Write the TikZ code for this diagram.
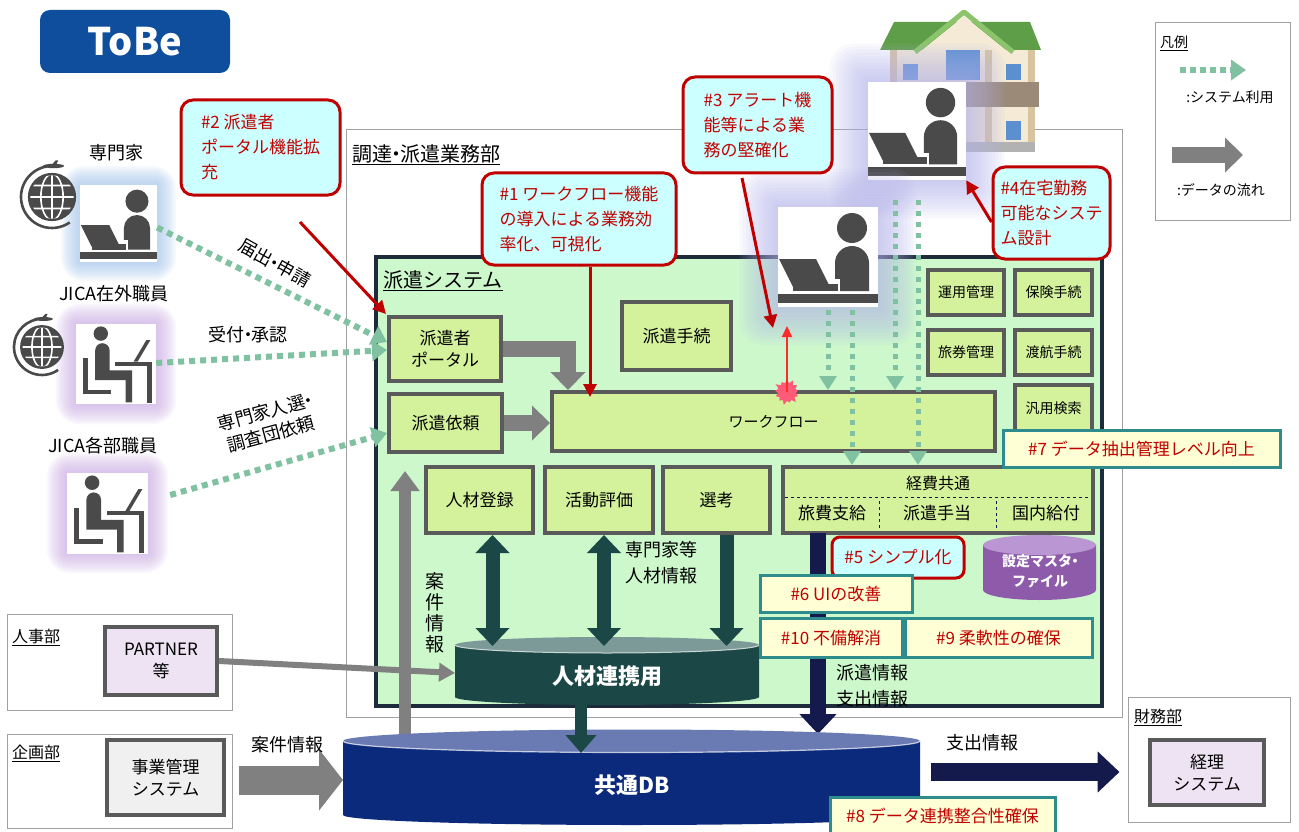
\documentclass[tikz,border=0pt]{standalone}
\usepackage{fontspec}
\setmainfont{Noto Sans CJK JP}
\usetikzlibrary{arrows.meta,shapes.symbols,calc}

\definecolor{tobeblue}{HTML}{0E4E9C}
\definecolor{framegray}{HTML}{A0A0A0}
\definecolor{sysfill}{HTML}{CCF8CC}
\definecolor{sysline}{HTML}{1E2B3A}
\definecolor{boxfill}{HTML}{D4F29C}
\definecolor{boxline}{HTML}{5A5A5A}
\definecolor{calred}{HTML}{C00000}
\definecolor{calfill}{HTML}{CCFFFF}
\definecolor{tealline}{HTML}{2F8C8C}
\definecolor{tealfill}{HTML}{FFFFD6}
\definecolor{usegreen}{HTML}{7FC1A0}
\definecolor{flowgray}{HTML}{808080}
\definecolor{hrteal}{HTML}{1B4846}
\definecolor{hrtopc}{HTML}{7C9A98}
\definecolor{dbnavy}{HTML}{0B2A7C}
\definecolor{dbtopc}{HTML}{6A7AB2}
\definecolor{expnavy}{HTML}{141A4C}
\definecolor{mstpurple}{HTML}{8E5BAA}
\definecolor{msttopc}{HTML}{BA96D2}
\definecolor{icongray}{HTML}{4A4A4A}
\definecolor{glowblue}{HTML}{9EC4EE}
\definecolor{glowlilac}{HTML}{C9A6E4}
\definecolor{glowmix}{HTML}{B4B4EE}
\definecolor{lavfill}{HTML}{EDE3F2}
\definecolor{lightgrayfill}{HTML}{F0F0F0}
\definecolor{roofgreen}{HTML}{5E9E48}
\definecolor{rooflight}{HTML}{8CC46C}
\definecolor{wallbeige}{HTML}{F4EAD6}
\definecolor{posttan}{HTML}{D9C4A0}
\definecolor{winblue}{HTML}{5B8FD0}
\definecolor{balconybrown}{HTML}{9C8A78}
\definecolor{burstpink}{HTML}{FF5A78}
\definecolor{alertred}{HTML}{FF2A2A}

% soft halo behind an icon: x1 y1 x2 y2 colour step
\newcommand{\halo}[6]{%
  \foreach \g in {1,...,12}{%
    \fill[#5, opacity=0.075, rounded corners=2*\g pt]
      (#1-\g*#6,#2-\g*#6) rectangle (#3+\g*#6,#4+\g*#6);}}
% narrow middle dot between words
\newcommand{\nd}{\kern-0.3em・\kern-0.3em}

\tikzset{
  fbox/.style={draw=boxline, line width=4pt, fill=boxfill, align=center,
    inner sep=0pt, font=\fontsize{17}{22}\selectfont},
  fsmall/.style={fbox, font=\fontsize{14}{18}\selectfont},
  callout/.style={draw=calred, line width=3pt, fill=calfill, rounded corners=12pt,
    text=calred, align=left, inner sep=0pt, font=\fontsize{17}{25}\selectfont},
  tealbox/.style={draw=tealline, line width=3pt, fill=tealfill, text=calred,
    inner sep=0pt, font=\fontsize{17}{20}\selectfont},
  dept/.style={draw=framegray, line width=1pt, fill=white, inner sep=0pt},
  lbl/.style={inner sep=0pt, font=\fontsize{18}{24}\selectfont},
  slbl/.style={inner sep=0pt, font=\fontsize{16}{20}\selectfont},
  usearrow/.style={draw=usegreen, line width=6pt, dash pattern=on 6pt off 5pt,
    -{Triangle[width=20pt,length=15pt]}},
  usevert/.style={draw=usegreen, line width=5pt, dash pattern=on 5pt off 6pt,
    -{Triangle[width=17pt,length=14pt]}},
  flowarrow/.style={draw=flowgray, line width=16pt,
    -{Triangle[width=34pt,length=18pt]}},
  hrarrow/.style={draw=hrteal, line width=14pt,
    -{Triangle[width=33pt,length=18pt]}},
  hrboth/.style={draw=hrteal, line width=14pt,
    {Triangle[width=33pt,length=18pt]}-{Triangle[width=33pt,length=18pt]}},
  exparrow/.style={draw=expnavy, line width=16pt,
    -{Triangle[width=36pt,length=20pt]}},
  redarrow/.style={draw=calred, line width=3pt,
    -{Triangle[width=13pt,length=13pt]}},
  iconframe/.style={inner sep=0pt, draw=none},
  pics/laptopper/.style={code={
    \fill[white] (0,0) rectangle (1,1);
    \fill[icongray] (0.74,0.21) circle[radius=0.15];
    \fill[icongray] (0.57,0.84) -- (0.57,0.56) arc[start angle=180,end angle=360,radius=0.17] -- (0.91,0.84) -- cycle;
    \fill[white] (0.54,0.72) rectangle (0.62,0.86);
    \fill[icongray] (0.01,0.52) -- (0.38,0.52) -- (0.52,0.80) -- (0.15,0.80) -- cycle;
    \fill[icongray] (0.15,0.77) rectangle (0.60,0.84);
    \fill[icongray] (0,0.87) rectangle (1,0.96);
  }},
  pics/seated/.style={code={
    \fill[white] (0,0) rectangle (1,1);
    \fill[icongray] (0.31,0.12) circle[radius=0.09];
    \fill[icongray] (0.24,0.70) -- (0.24,0.33) arc[start angle=180,end angle=360,radius=0.09]
      -- (0.42,0.58) -- (0.70,0.58) -- (0.70,0.98) -- (0.62,0.98) -- (0.62,0.70) -- cycle;
    \fill[icongray] (0.09,0.43) rectangle (0.15,0.88);
    \fill[icongray] (0.09,0.82) rectangle (0.44,0.88);
    \fill[icongray] (0.49,0.47) rectangle (0.95,0.52);
    \fill[icongray] (0.89,0.47) rectangle (0.95,0.99);
    \fill[icongray] (0.72,0.47) -- (0.88,0.20) -- (0.93,0.20) -- (0.77,0.47) -- cycle;
  }},
  pics/globe/.style={code={
    \fill[icongray] (0,0) circle[radius=0.74];
    \draw[white, line width=1.6pt] (-0.74,0) -- (0.74,0) (0,-0.74) -- (0,0.74)
      (-0.64,-0.37) -- (0.64,-0.37) (-0.64,0.37) -- (0.64,0.37)
      (0,0) ellipse[x radius=0.36, y radius=0.74];
    \draw[icongray, line width=2.4pt] (0,0) circle[radius=0.74];
    \draw[icongray, line width=2.6pt] (260:1) arc[start angle=260, end angle=55, radius=1];
    \fill[icongray] (0.05,-1.0) ellipse[x radius=0.34, y radius=0.07];
    \fill[icongray] (-0.05,-1.0) -- (0.12,-1.18) -- (0.2,-1.18) -- (0.12,-1.0) -- cycle;
  }},
}

\begin{document}
\begin{tikzpicture}[x=1pt, y=-1pt]
\useasboundingbox (0,0) rectangle (1299,832);
\fill[white] (0,0) rectangle (1299,832);
\clip (0,0) rectangle (1299,832);

% ---------- title ----------
\node[fill=tobeblue, rounded corners=10pt, minimum width=190pt, minimum height=63pt,
  text=white, font=\bfseries\fontsize{38}{40}\selectfont] (tobe) at (135,41.5) {ToBe};

% ---------- legend ----------
\node[dept, minimum width=135pt, minimum height=197pt] (legend) at (1222.5,121.5) {};
\node[inner sep=0pt, anchor=west, font=\fontsize{14}{16}\selectfont] (legendtitle) at (1160,43) {\underline{凡例}};
\coordinate (lgA) at (1180,70);
\coordinate (lgB) at (1246,70);
\draw[usearrow, dash pattern=on 6pt off 4pt] (lgA) -- (lgB);
\node[inner sep=0pt, font=\fontsize{14}{16}\selectfont] (lgusetxt) at (1230,97) {:システム利用};
\coordinate (lgC) at (1172,155);
\coordinate (lgD) at (1243,155);
\draw[flowarrow] (lgC) -- (lgD);
\node[inner sep=0pt, font=\fontsize{14}{16}\selectfont] (lgflowtxt) at (1221,190) {:データの流れ};

% ---------- department frames ----------
\node[dept, minimum width=776pt, minimum height=587pt] (chotatsu) at (734,423.5) {};
\node[inner sep=0pt, anchor=west, font=\fontsize{20}{24}\selectfont] (chotatsulbl) at (352,155) {\underline{調達\nd 派遣業務部}};
\node[dept, minimum width=225pt, minimum height=96pt] (jinji) at (119.5,662) {};
\node[slbl, anchor=west] (jinjilbl) at (12,637) {\underline{人事部}};
\node[dept, minimum width=225pt, minimum height=94pt] (kikaku) at (119.5,781) {};
\node[slbl, anchor=west] (kikakulbl) at (12,753) {\underline{企画部}};
\node[dept, minimum width=162pt, minimum height=125pt] (zaimu) at (1209,759.5) {};
\node[slbl, anchor=west] (zaimulbl) at (1134,717) {\underline{財務部}};

% ---------- house behind the remote worker ----------
\fill[wallbeige] (890,46) rectangle (1035,150);
\fill[posttan] (890,46) rectangle (897,150);
\fill[posttan] (1028,46) rectangle (1035,150);
\fill[posttan] (985,46) rectangle (992,150);
\fill[winblue] (946,50) rectangle (980,80);
\fill[winblue] (903,64) rectangle (918,80);
\fill[winblue] (1006,64) rectangle (1021,80);
\fill[balconybrown] (884,82) rectangle (1039,107);
\fill[winblue] (1006,121) rectangle (1021,140);
\fill[gray!60] (893,142) rectangle (1035,152);
\fill[roofgreen] (880,50) -- (894,22) -- (1030,22) -- (1041,50) -- cycle;
\fill[wallbeige] (922,50) -- (964,16) -- (1006,50) -- cycle;
\draw[rooflight, line width=5pt, line join=round] (915,52) -- (964,12) -- (1013,52);

% ---------- dispatch system frame ----------
\node[draw=sysline, line width=4pt, fill=sysfill, minimum width=726pt, minimum height=449pt,
  inner sep=0pt] (system) at (739,481.5) {};
\node[inner sep=0pt, anchor=west, font=\fontsize{20}{24}\selectfont] (systemlbl) at (383,281) {\underline{派遣システム}};

% ---------- people ----------
\halo{80}{185}{157}{262}{glowblue}{1.6}
\pic[scale=77] at (80,185) {laptopper};
\node[iconframe, minimum size=77pt] (expert) at (118.5,223.5) {};
\pic[scale=31] at (52,197) {globe};
\node[lbl] (expertlbl) at (116,153) {専門家};

\halo{76}{324}{156}{404}{glowlilac}{1.7}
\pic[scale=80] at (76,324) {seated};
\node[iconframe, minimum size=80pt] (overseas) at (116,364) {};
\pic[scale=28] at (42,347) {globe};
\node[lbl] (overseaslbl) at (114,294) {JICA在外職員};

\halo{67}{473}{148}{553}{glowlilac}{1.7}
\pic[scale=81] at (67,473) {seated};
\node[iconframe, minimum size=81pt] (hq) at (107.5,513) {};
\node[lbl] (hqlbl) at (103,446) {JICA各部職員};

\halo{868}{82}{966}{180}{glowmix}{3.2}
\pic[scale=98] at (868,82) {laptopper};
\node[iconframe, minimum size=98pt] (home) at (917,131) {};

\halo{778}{207}{878}{307}{glowmix}{3.2}
\pic[scale=100] at (778,207) {laptopper};
\node[iconframe, minimum size=100pt] (office) at (828,257) {};

% ---------- function boxes ----------
\node[fbox, minimum width=112pt, minimum height=64pt] (portal) at (445,349) {派遣者\\ポータル};
\node[fbox, minimum width=113pt, minimum height=58pt] (irai) at (445.5,423) {派遣依頼};
\node[fbox, minimum width=109pt, minimum height=68pt] (tetsuzuki) at (676.5,336) {派遣手続};
\node[fbox, font=\fontsize{15}{18}\selectfont, minimum width=443pt, minimum height=59pt] (wf) at (773.5,421.5) {ワークフロー};
\node[fsmall, minimum width=76pt, minimum height=45pt] (unyo) at (966,292.5) {運用管理};
\node[fsmall, minimum width=77pt, minimum height=45pt] (hoken) at (1053.5,292.5) {保険手続};
\node[fsmall, minimum width=76pt, minimum height=45pt] (ryoken) at (966,352.5) {旅券管理};
\node[fsmall, minimum width=77pt, minimum height=45pt] (toko) at (1053.5,352.5) {渡航手続};
\node[fsmall, minimum width=77pt, minimum height=46pt] (hanyo) at (1053.5,408) {汎用検索};
\node[fbox, minimum width=107pt, minimum height=66pt] (toroku) at (479.5,500) {人材登録};
\node[fbox, minimum width=108pt, minimum height=66pt] (hyoka) at (599,500) {活動評価};
\node[fbox, minimum width=107pt, minimum height=66pt] (senko) at (716.5,500) {選考};
\node[fbox, minimum width=310pt, minimum height=66pt] (keihi) at (938,500) {};
\node[slbl] (keihilbl) at (938,483) {経費共通};
\draw[expnavy, line width=1pt, dashed] (keihi.west |- 0,497) ++(4,0) -- (1090,497);
\draw[expnavy, line width=1pt, dashed] (879,501) -- (879,528) (996,501) -- (996,528);
\node[inner sep=0pt, font=\fontsize{17}{20}\selectfont] (ryohi) at (832,513) {旅費支給};
\node[inner sep=0pt, font=\fontsize{17}{20}\selectfont] (teate) at (937,513) {派遣手当};
\node[inner sep=0pt, font=\fontsize{17}{20}\selectfont] (kokunai) at (1046,513) {国内給付};

% ---------- outside systems ----------
\node[fbox, fill=lavfill, minimum width=112pt, minimum height=68pt] (partner) at (161,661) {PARTNER\\等};
\node[fbox, fill=lightgrayfill, minimum width=117pt, minimum height=75pt] (jigyo) at (165.5,777.5) {事業管理\\システム};
\node[fbox, fill=lavfill, minimum width=114pt, minimum height=65pt] (keiri) at (1207,772.5) {経理\\システム};

% ---------- system use (dotted) ----------
\draw[usearrow] (expert.east) ++(0,4) -- ([yshift=7pt]portal.west);
\draw[usearrow] ([yshift=1pt]overseas.east) -- ([yshift=-1pt]portal.west);
\draw[usearrow] ([xshift=22pt,yshift=18pt]hq.east) -- ([yshift=-10pt]irai.west);
\node[lbl, rotate=-29] (todokede) at (275,263) {届出\nd 申請};
\node[lbl] (uketsuke) at (248,335) {受付\nd 承認};
\node[lbl, rotate=15, align=center, font=\fontsize{18}{23}\selectfont] (jinsen) at (268,423) {専門家人選\nd\\調査団依頼};

\coordinate (offA) at (828,310);
\coordinate (offB) at (852,310);
\coordinate (homeA) at (895,200);
\coordinate (homeB) at (918,200);
\draw[usevert] (offA) -- (offA |- wf.north);
\draw[usevert] (offB) -- (offB |- keihi.north);
\draw[usevert] (homeA) -- (homeA |- wf.north);
\draw[usevert] (homeB) -- (homeB |- keihi.north);

% ---------- data flow (grey) ----------
\draw[flowarrow, line join=miter] (portal.east) -| ($(wf.north west)+(18,0)$);
\draw[flowarrow] (irai.east) -- (irai.east -| wf.west);
\coordinate (caseLow) at (405,748);
\coordinate (caseHigh) at (405,471);
\draw[draw=flowgray, line width=12pt, -{Triangle[width=28pt,length=20pt]}] (caseLow) -- (caseHigh);
\node[inner sep=0pt, align=center, font=\fontsize{19}{21}\selectfont] (anken) at (435,613) {案\\件\\情\\報};
\coordinate (hrIn) at (455,673);
\draw[draw=flowgray, line width=6pt, -{Triangle[width=18pt,length=16pt]}] (partner.east) -- (hrIn);
\coordinate (dbIn) at (343,780);
\draw[draw=flowgray, line width=29pt, -{Triangle[width=60pt,length=24pt]}] ([xshift=13pt]jigyo.east |- dbIn) -- (dbIn);
\node[lbl] (ankenlbl) at (287,745) {案件情報};

% ---------- expense data path ----------
\coordinate (expLow) at (818,734);
\draw[exparrow] (ryohi.south -| expLow) ++(0,12) -- (expLow);

% ---------- master file cylinder ----------
\fill[mstpurple] (983,545) -- (983,590) arc[start angle=180, end angle=0, x radius=56.5, y radius=10] -- (1096,545) -- cycle;
\fill[msttopc] (1039.5,545) ellipse[x radius=56.5, y radius=10];
\node[inner sep=0pt, text=white, align=center, font=\bfseries\fontsize{14}{20}\selectfont] (master) at (1040,571) {設定マスタ\nd\\ファイル};

% ---------- common DB cylinder ----------
\fill[dbnavy] (343,741) -- (343,815) arc[start angle=180, end angle=0, x radius=288.5, y radius=10] -- (920,741) -- cycle;
\fill[dbtopc] (631.5,741) ellipse[x radius=288.5, y radius=11.5];
\draw[white, opacity=0.7, line width=1.2pt] (343,741) arc[start angle=180, end angle=0, x radius=288.5, y radius=11.5];
\node[inner sep=0pt, text=white, font=\bfseries\fontsize{22}{24}\selectfont] (commondb) at (632,785) {共通DB};

% ---------- personnel link cylinder ----------
\fill[hrteal] (455,645) -- (455,697) arc[start angle=180, end angle=0, x radius=152, y radius=8] -- (759,645) -- cycle;
\fill[hrtopc] (607,645) ellipse[x radius=152, y radius=8];
\draw[white, opacity=0.7, line width=1pt] (455,645) arc[start angle=180, end angle=0, x radius=152, y radius=8];
\node[inner sep=0pt, text=white, font=\bfseries\fontsize{22}{24}\selectfont] (hrlink) at (607,676) {人材連携用};
\coordinate (hrTop) at (607,646);
\coordinate (hrBottom) at (581,702);
\coordinate (dbTop) at (581,753);

% ---------- personnel data arrows ----------
\draw[hrboth] ([xshift=13pt]toroku.south) -- ([xshift=13pt]toroku.south |- hrTop);
\draw[hrboth] ([xshift=5pt]hyoka.south) -- ([xshift=5pt]hyoka.south |- hrTop);
\draw[hrarrow] ([xshift=10pt]senko.south) -- ([xshift=10pt]senko.south |- hrTop);
\draw[hrarrow, line width=12pt, -{Triangle[width=30pt,length=18pt]}] (hrBottom) -- (dbTop);
\node[inner sep=0pt, align=left, anchor=west, font=\fontsize{18}{26}\selectfont] (jinzai) at (625,563) {専門家等\\人材情報};
\node[inner sep=0pt, align=left, anchor=west, font=\fontsize{18}{26}\selectfont] (hakenjoho) at (836,686) {派遣情報\\支出情報};

% ---------- outgoing expense data ----------
\coordinate (dbOut) at (931,772);
\draw[exparrow, line width=18pt, -{Triangle[width=40pt,length=22pt]}] (dbOut) -- ($(zaimu.west |- dbOut)+(-8,0)$);
\node[lbl] (shishutsu) at (982,743) {支出情報};

% ---------- improvement points ----------
\node[callout, minimum width=159pt, minimum height=95pt] (cal2) at (260.5,147.5) {\#2 派遣者\\ポータル機能拡\\充};
\node[callout, minimum width=194pt, minimum height=92pt] (cal1) at (579,219) {\#1 ワークフロー機能\\の導入による業務効\\率化、可視化};
\node[callout, minimum width=149pt, minimum height=96pt] (cal3) at (757.5,125) {\#3 アラート機\\能等による業\\務の堅確化};
\node[callout, minimum width=117pt, minimum height=92pt] (cal4) at (1051.5,213) {\#4在宅勤務\\可能なシステ\\ム設計};
\node[callout, rounded corners=8pt, minimum width=132pt, minimum height=41pt] (cal5) at (898,557.5) {\#5 シンプル化};

\node[tealbox, minimum width=277pt, minimum height=37pt] (imp7) at (1141.5,448.5) {\#7 データ抽出管理レベル向上};
\node[tealbox, minimum width=152pt, minimum height=37pt] (imp6) at (836,594) {\#6 UIの改善};
\node[tealbox, minimum width=142pt, minimum height=39pt] (imp10) at (831,638) {\#10 不備解消};
\node[tealbox, minimum width=187pt, minimum height=39pt] (imp9) at (998.5,638) {\#9 柔軟性の確保};
\node[tealbox, minimum width=225pt, minimum height=37pt] (imp8) at (942.5,816) {\#8 データ連携整合性確保};

% ---------- pointers ----------
\coordinate (p2start) at (300,222);
\draw[redarrow] (p2start) -- ([xshift=-1pt,yshift=1pt]portal.north west);
\draw[redarrow, shorten >=-7pt] ([xshift=11pt]cal1.south) -- ([xshift=11pt]cal1.south |- wf.north);
\coordinate (p3start) at (742,178);
\coordinate (alertpt) at (773,328);
\draw[redarrow] (p3start) -- (alertpt);
\node[starburst, fill=burstpink, draw=none, minimum width=28pt, minimum height=28pt,
  starburst points=13, starburst point height=5pt, inner sep=0pt] (burst) at (787,392) {};
\coordinate (burstTip) at (787,326);
\draw[alertred, line width=2pt, -{Triangle[width=10pt,length=11pt]}] (burst.center) -- (burstTip);
\draw[redarrow] ([yshift=-9pt]cal4.west) -- (home.south east);

\end{tikzpicture}
\end{document}
